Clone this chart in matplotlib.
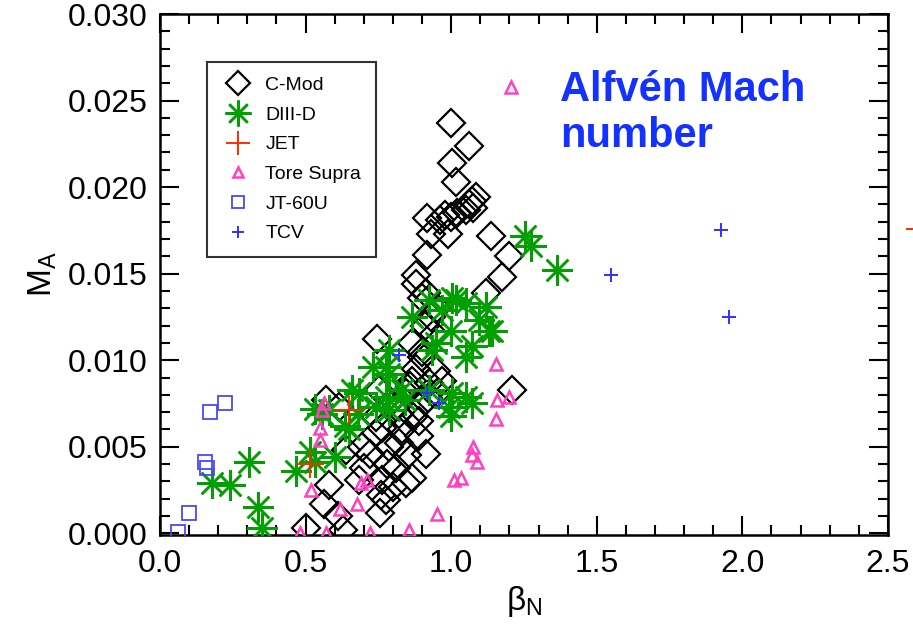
import matplotlib
matplotlib.use('Agg')
import matplotlib.pyplot as plt
from matplotlib.ticker import MultipleLocator, FormatStrFormatter

plt.rcParams['font.family'] = ['Liberation Sans', 'DejaVu Sans']
plt.rcParams['mathtext.fontset'] = 'custom'
plt.rcParams['mathtext.rm'] = 'Liberation Sans'
plt.rcParams['mathtext.it'] = 'Liberation Sans'

# C-Mod (open diamonds)
cmod_x = [1.0, 1.062, 1.003, 1.017, 1.05, 1.06, 1.07, 1.085, 1.075,
          0.918, 0.96, 0.98, 1.0, 1.02, 0.93, 0.99, 1.137,
          0.918, 1.2, 0.88, 1.175, 1.12, 0.914, 0.88, 0.9,
          0.747, 0.866, 0.9, 0.948, 0.97, 0.925, 0.866, 0.845, 0.89, 0.81,
          0.753, 0.616, 1.21, 0.94, 0.91, 0.88, 0.92, 0.95, 0.87, 0.57,
          0.5, 0.565, 0.58, 0.63, 0.61, 0.685, 0.755, 0.777, 0.743, 0.72,
          0.788, 0.846, 0.866, 0.81, 0.8, 0.764, 0.89, 0.914, 0.89, 0.832,
          0.822, 0.764, 0.743, 0.695, 0.64, 0.78, 0.85, 0.76, 0.7, 0.82,
          0.86, 0.79, 0.9, 0.95, 0.93]
cmod_y = [0.0237, 0.0224, 0.0214, 0.0203, 0.0187, 0.019, 0.0192, 0.0194, 0.0188,
          0.0182, 0.0181, 0.0184, 0.0183, 0.0185, 0.0173, 0.0173, 0.0172,
          0.0161, 0.016, 0.0149, 0.0148, 0.0139, 0.0139, 0.0144, 0.0136,
          0.0112, 0.011, 0.0102, 0.0094, 0.0088, 0.0087, 0.0088, 0.0081, 0.0073, 0.0073,
          0.0083, 0.0073, 0.0083, 0.0115, 0.012, 0.0095, 0.0078, 0.0081, 0.0067, 0.0077,
          0.0003, 0.0017, 0.0028, 0.0002, 0.001, 0.0031, 0.0012, 0.0019, 0.0058, 0.0046,
          0.005, 0.0029, 0.0032, 0.0038, 0.0027, 0.0031, 0.0056, 0.0046, 0.0065, 0.006,
          0.0069, 0.0061, 0.0067, 0.005, 0.0048, 0.004, 0.0045, 0.0022, 0.0038, 0.0052,
          0.0085, 0.0075, 0.0105, 0.013, 0.0125]

# DIII-D (asterisks)
d3d_x = [1.255, 1.275, 1.363, 0.925, 1.003, 1.05, 1.12, 0.866, 0.97, 1.096,
         1.14, 1.0, 1.07, 1.05, 0.948, 0.788, 0.73, 0.788, 0.685, 0.777,
         0.832, 1.003, 1.05, 0.925, 1.0, 0.84, 0.58, 0.634, 0.534, 0.6,
         0.466, 0.305, 0.24, 0.178, 0.336, 0.35, 0.514, 0.534, 0.68, 0.558,
         0.788, 1.07, 0.65, 1.017, 1.13, 0.935, 0.993, 0.66, 0.743, 0.777]
d3d_y = [0.0172, 0.0166, 0.0152, 0.0135, 0.0136, 0.0133, 0.0131, 0.0125, 0.0129, 0.0123,
         0.0117, 0.0117, 0.0108, 0.0102, 0.011, 0.0106, 0.0096, 0.0092, 0.0081, 0.0079,
         0.0083, 0.0081, 0.0079, 0.0083, 0.0068, 0.0077, 0.0071, 0.0062, 0.0041, 0.0044,
         0.0036, 0.0041, 0.0028, 0.0029, 0.0015, 0.0003, 0.0047, 0.0072, 0.0069, 0.0069,
         0.0071, 0.0075, 0.006, 0.0135, 0.0117, 0.0106, 0.0073, 0.0083, 0.0073, 0.0096]

# JET (red crosses), last one sits just past the right edge
jet_x = [0.514, 0.65, 2.61]
jet_y = [0.0040, 0.0071, 0.0176]

# Tore Supra (open triangles)
ts_x = [1.205, 1.154, 1.157, 1.2, 1.154, 1.07, 1.075, 1.09, 1.034, 1.01,
        0.95, 0.565, 0.558, 0.548, 0.52, 0.617, 0.675, 0.69, 0.712, 0.856,
        0.48, 0.57, 0.72, 0.548]
ts_y = [0.0258, 0.0098, 0.0077, 0.0079, 0.0066, 0.0045, 0.005, 0.0041, 0.0032, 0.0031,
        0.0011, 0.0075, 0.0071, 0.0054, 0.0025, 0.0014, 0.0017, 0.0029, 0.0031, 0.0002,
        0.0, 0.0, 0.0, 0.0061]

# JT-60U (open squares)
jt_x = [0.062, 0.1, 0.154, 0.16, 0.171, 0.223]
jt_y = [0.0001, 0.0012, 0.0041, 0.0038, 0.0070, 0.0075]

# TCV (small blue plus)
tcv_x = [1.548, 1.928, 1.955, 0.822, 0.918, 0.959]
tcv_y = [0.0149, 0.0175, 0.0125, 0.0103, 0.0081, 0.0075]

fig = plt.figure(figsize=(9.13, 6.31), dpi=100)
ax = fig.add_axes([0.1752, 0.1521, 0.7974, 0.8257])

ax.plot(cmod_x, cmod_y, ls='none', marker='D', ms=14, mfc='none', mec='black', mew=1.6,
        label='C-Mod', zorder=3)
ax.plot(d3d_x, d3d_y, ls='none', marker=(8, 2, 0), ms=22, mec='#00a000', mew=1.8,
        label='DIII-D', zorder=4)
ax.plot(jet_x, jet_y, ls='none', marker='+', ms=20, mec='#ff2a00', mew=1.4,
        label='JET', zorder=5, clip_on=False)
ax.plot(ts_x, ts_y, ls='none', marker='^', ms=8, mfc='none', mec='#ff40c0', mew=1.8,
        label='Tore Supra', zorder=5)
ax.plot(jt_x, jt_y, ls='none', marker='s', ms=10, mfc='none', mec='#4848ff', mew=1.3,
        label='JT-60U', zorder=5)
ax.plot(tcv_x, tcv_y, ls='none', marker='+', ms=10, mec='#3030ff', mew=1.4,
        label='TCV', zorder=6)

ax.set_xlim(0, 2.5)
ax.set_ylim(-0.0001, 0.030)
ax.xaxis.set_major_locator(MultipleLocator(0.5))
ax.xaxis.set_minor_locator(MultipleLocator(0.1))
ax.yaxis.set_major_locator(MultipleLocator(0.005))
ax.yaxis.set_minor_locator(MultipleLocator(0.001))
ax.xaxis.set_major_formatter(FormatStrFormatter('%.1f'))
ax.yaxis.set_major_formatter(FormatStrFormatter('%.3f'))
ax.tick_params(which='both', direction='in', top=True, right=True, width=1.5,
               labelsize=23, colors='black')
ax.tick_params(which='major', length=14, pad=10)
ax.tick_params(which='minor', length=7)
ax.tick_params(axis='y', which='major', pad=9)
for s in ax.spines.values():
    s.set_linewidth(1.8)

ax.set_xlabel(r'$\mathrm{\beta_N}$', fontsize=24, labelpad=4)
ax.set_ylabel(r'$\mathrm{M_A}$', fontsize=24, labelpad=6)

leg = ax.legend(loc='upper left', bbox_to_anchor=(0.0646, 0.908), fontsize=14,
                frameon=True, fancybox=False, edgecolor='black', borderpad=0.75,
                labelspacing=0.62, handletextpad=0.55, handlelength=1.7,
                borderaxespad=0, markerscale=0.85)
leg.get_frame().set_linewidth(1.5)

ax.text(0.549, 0.893, 'Alfvén Mach\nnumber', transform=ax.transAxes, color='#1432ff',
        fontsize=30, fontweight='bold', va='top', ha='left', linespacing=1.2)

fig.savefig('out.png', dpi=100)
